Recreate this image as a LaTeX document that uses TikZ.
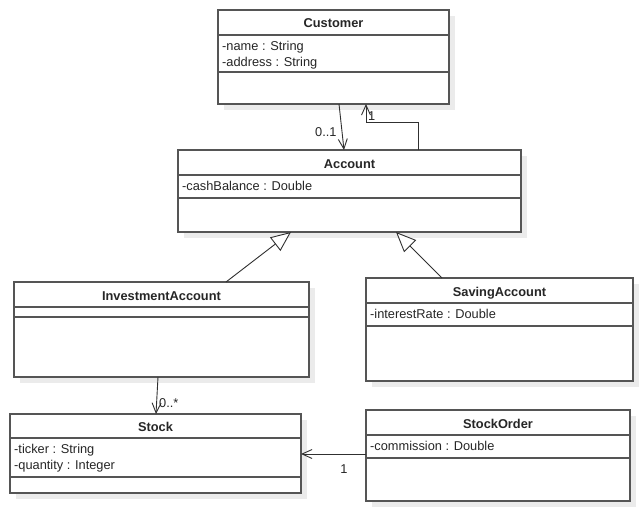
\documentclass[tikz,border=0pt]{standalone}
\usepackage{fontspec}
\setmainfont{Liberation Sans}
\usetikzlibrary{arrows.meta}

\definecolor{boxline}{HTML}{555555}
\definecolor{boxshadow}{HTML}{EBEBEB}
\definecolor{linkline}{HTML}{303030}

\tikzset{
  classbox/.style={draw=boxline, line width=1.6pt, fill=white, inner sep=0pt, outer sep=0pt},
  classrule/.style={draw=boxline, line width=1.6pt},
  classshadow/.style={fill=boxshadow},
  classtitle/.style={font=\fontsize{12.8}{15}\selectfont\bfseries, inner sep=0pt,
                     text height=9pt, text depth=0pt, text=black!85},
  classattr/.style={font=\fontsize{12.8}{15.5}\selectfont, inner sep=0pt, align=left,
                    anchor=north west, text=black!85},
  multlabel/.style={font=\fontsize{12.8}{15}\selectfont, inner sep=0pt, text=black!85},
  assoc/.style={draw=linkline, line width=0.9pt, -{Straight Barb[length=10pt,width=9pt,line width=0.9pt]}},
  generalize/.style={draw=linkline, line width=0.9pt, -{Triangle[open,length=20pt,width=17pt,line width=0.9pt,fill=white]}},
}

% #1 name, #2 left, #3 top, #4 right, #5 bottom, #6 first rule, #7 second rule, #8 title, #9 attributes
\newcommand\umlclass[9]{%
  \fill[classshadow] (#2+6,#3+6) rectangle (#4+6,#5+6);
  \node[classbox, minimum width={(#4-#2)*1pt}, minimum height={(#5-#3)*1pt}]
    (#1) at ({(#2+#4)/2},{(#3+#5)/2}) {};
  \draw[classrule] (#2,#6) -- (#4,#6);
  \draw[classrule] (#2,#7) -- (#4,#7);
  \node[classtitle] (#1-title) at ({(#2+#4)/2},{(#3+#6)/2+1}) {#8};
  \node[classattr] (#1-attrs) at (#2+4,#6+6.5) {#9};
}

\begin{document}
\begin{tikzpicture}[x=1pt,y=-1pt]
  \useasboundingbox[fill=white] (0,0) rectangle (643,511);

  \umlclass{customer}{218}{10}{449}{104}{35}{72}{Customer}{-name : String\\-address : String}
  \umlclass{account}{178}{150}{521}{232}{175}{198}{Account}{-cashBalance : Double}
  \umlclass{invest}{14}{282}{309}{377}{307}{317}{InvestmentAccount}{}
  \umlclass{saving}{366}{278}{633}{381}{303}{326}{SavingAccount}{-interestRate : Double}
  \umlclass{stock}{10}{414}{301}{493}{438}{477}{Stock}{-ticker : String\\-quantity : Integer}
  \umlclass{order}{366}{410}{630}{501}{435}{458}{StockOrder}{-commission : Double}

  % Customer -> Account (0..1)
  \draw[assoc] ([xshift=5.5pt]customer.south) -- ([xshift=-5.5pt]account.north)
    node[multlabel, pos=0.6, left=5pt] (custmult) {0..1};

  % Account -> Customer (1)
  \draw[assoc] ([xshift=68.5pt]account.north) -- ++(0,-28) coordinate (bend)
    -| ([xshift=32.5pt]customer.south);
  \node[multlabel, anchor=west] (acctmult) at (368,116) {1};

  % Generalizations
  \draw[generalize] ([xshift=64.5pt]invest.north) -- ([xshift=-58.5pt]account.south);
  \draw[generalize] ([xshift=-57.5pt]saving.north) -- ([xshift=46.5pt]account.south);

  % InvestmentAccount -> Stock (0..*)
  \draw[assoc] ([xshift=-3.5pt]invest.south) -- ([xshift=0.5pt]stock.north);
  \node[multlabel, anchor=west] (investmult) at (159,403) {0..*};

  % StockOrder -> Stock (1)
  \draw[assoc] ([yshift=1.5pt]order.west) -- ([yshift=-0.5pt]stock.east);
  \node[multlabel] (ordermult) at (344,469) {1};
\end{tikzpicture}
\end{document}
